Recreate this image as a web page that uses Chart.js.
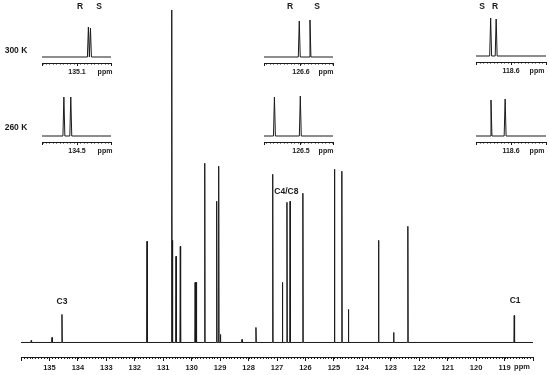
<!DOCTYPE html>
<html>
<head>
<meta charset="utf-8">
<script src="https://cdn.jsdelivr.net/npm/chart.js@4"></script>
<style>
  html, body { margin: 0; padding: 0; background: #fff; }
  #wrap { position: relative; width: 550px; height: 375px; }
  #wrap canvas { position: absolute; }
</style>
</head>
<body>
<div id="wrap">
  <canvas id="main" width="550" height="375" style="left:0;top:0"></canvas>
</div>
<script>
// 13C spectrum: peak shifts (ppm) and peak heights (arbitrary units)
const peakPpm = [
  135.64, 134.91, 134.56, 131.57, 130.70, 130.67, 130.55, 130.40,
  129.88, 129.84, 129.54, 129.12, 129.05, 128.99, 128.23, 127.74,
  127.15, 126.81, 126.65, 126.54, 126.09, 124.98, 124.72, 124.49,
  123.43, 122.90, 122.40, 118.66
];
const peakHeight = [
  2, 5, 28, 101, 332, 102, 86, 96,
  60, 60, 179, 141, 176, 8, 3, 15,
  168, 60, 140, 141, 149, 173, 171, 33,
  102, 10, 116, 27
];
const axisTicks = [136, 135, 134, 133, 132, 131, 130, 129, 128, 127, 126, 125, 124, 123, 122, 121, 120, 119, 118];
const axisLabelled = [135, 134, 133, 132, 131, 130, 129, 128, 127, 126, 125, 124, 123, 122, 121, 120, 119];

// peak labels
const peakLabelText = ["C3", "C4/C8", "C1"];
const peakLabelPpm = [134.56, 126.67, 118.63];

// insets: 300 K row (C3, C4/C8, C1) then 260 K row
const insetTick = [135.1, 126.6, 118.6, 134.5, 126.5, 118.6];
const insetPeakPpm = [
  [135.067, 135.061], [126.605, 126.574], [118.659, 118.643],
  [134.538, 134.518], [126.577, 126.502], [118.658, 118.617]
];
const insetPeakHeight = [
  [30, 29], [36, 37], [38, 37],
  [39, 39], [39, 40], [36, 37]
];
const insetPeakNames = [["R", "S"], ["R", "S"], ["S", "R"]];

// layout (pixels)
const lineColor = "#1a1a1a";
const textColor = "#1a1a1a";
const fontFamily = "'Liberation Sans', Arial, Helvetica, sans-serif";
const peakLabelY = [302, 192, 301];
const insetBoxes = [
  { left: 42, width: 69, tickX: 77, baseline: 57, ppmX: 105 },
  { left: 264, width: 69, tickX: 301, baseline: 57, ppmX: 326 },
  { left: 476, width: 70, tickX: 511, baseline: 56, ppmX: 537 },
  { left: 42, width: 69, tickX: 77, baseline: 136, ppmX: 105 },
  { left: 264, width: 69, tickX: 301, baseline: 136, ppmX: 326 },
  { left: 476, width: 70, tickX: 511, baseline: 136, ppmX: 537 }
];
const insetSpare = 4; // room right of an inset for the "ppm" text
const nameX = [[80, 99], [290, 317], [482, 495]];
const tempLabels = [{ text: "300 K", y: 51 }, { text: "260 K", y: 128 }];

Chart.defaults.font.family = fontFamily;
Chart.defaults.font.weight = "bold";
Chart.defaults.color = textColor;

/**
 * Builds line points for a stick-like spectrum, left to right on a reversed axis.
 */
function buildSpectrum(ppm, height, halfWidth, from, to) {
  const order = ppm.map((p, i) => i).sort((a, b) => ppm[b] - ppm[a]);
  const points = [{ x: from, y: 0 }];
  order.forEach((i) => {
    points.push({ x: ppm[i] + halfWidth, y: 0 });
    points.push({ x: ppm[i], y: height[i] });
    points.push({ x: ppm[i] - halfWidth, y: 0 });
  });
  points.push({ x: to, y: 0 });
  return points;
}

// small ticks between the labelled ones, plus the "ppm" unit
const minorTicks = {
  id: "minorTicks",
  afterDraw(chart, args, opts) {
    const s = chart.scales.x;
    const ctx = chart.ctx;
    ctx.save();
    ctx.strokeStyle = lineColor;
    ctx.lineWidth = 1;
    ctx.beginPath();
    const k0 = Math.ceil(s.min / opts.step - 1e-6);
    const k1 = Math.floor(s.max / opts.step + 1e-6);
    for (let k = k0; k <= k1; k++) {
      const x = Math.round(s.getPixelForValue(k * opts.step)) + 0.5;
      ctx.moveTo(x, s.top);
      ctx.lineTo(x, s.top + opts.length);
    }
    ctx.stroke();
    ctx.fillStyle = textColor;
    ctx.font = "bold " + opts.fontSize + "px " + fontFamily;
    ctx.textAlign = "center";
    ctx.textBaseline = "top";
    ctx.fillText("ppm", opts.ppmX, s.top + opts.labelTop);
    ctx.restore();
  }
};

const mainText = {
  id: "mainText",
  afterDraw(chart) {
    const ctx = chart.ctx;
    const x = chart.scales.x;
    ctx.save();
    ctx.fillStyle = textColor;
    ctx.font = "bold 8.5px " + fontFamily;
    ctx.textAlign = "center";
    ctx.textBaseline = "middle";
    peakLabelText.forEach((t, i) => {
      ctx.fillText(t, x.getPixelForValue(peakLabelPpm[i]), peakLabelY[i]);
    });
    insetPeakNames.forEach((names, i) => {
      names.forEach((n, j) => ctx.fillText(n, nameX[i][j], 7));
    });
    tempLabels.forEach((t) => ctx.fillText(t.text, 16, t.y));
    ctx.restore();
  }
};

new Chart(document.getElementById("main"), {
  type: "scatter",
  data: {
    datasets: [{
      data: buildSpectrum(peakPpm, peakHeight, 0.012, 136, 118),
      showLine: true,
      borderColor: lineColor,
      borderWidth: 1,
      pointRadius: 0
    }]
  },
  options: {
    responsive: false,
    animation: false,
    events: [],
    layout: { padding: { left: 21, right: 17, top: 10, bottom: 0 } },
    plugins: {
      legend: { display: false },
      tooltip: { enabled: false },
      minorTicks: { step: 0.1, length: 2, ppmX: 522, labelTop: 6, fontSize: 7.5 }
    },
    scales: {
      x: {
        type: "linear",
        reverse: true,
        min: 118,
        max: 136,
        afterBuildTicks: (s) => { s.ticks = axisTicks.map((v) => ({ value: v })); },
        afterFit: (s) => { s.height = 18; },
        grid: { drawOnChartArea: false, tickLength: 4, color: lineColor },
        border: { color: lineColor, width: 1 },
        ticks: {
          padding: 2,
          autoSkip: false,
          maxRotation: 0,
          font: { size: 7.5, weight: "bold" },
          callback: (v) => (axisLabelled.includes(v) ? String(v) : "")
        }
      },
      y: { display: false, min: -14.5, max: 332 }
    }
  },
  plugins: [minorTicks, mainText]
});

// insets
const wrap = document.getElementById("wrap");
insetBoxes.forEach((box, i) => {
  const canvas = document.createElement("canvas");
  canvas.width = box.width + insetSpare;
  canvas.height = 62;
  canvas.style.left = box.left + "px";
  canvas.style.top = (box.baseline - 42) + "px";
  wrap.appendChild(canvas);

  const c = insetTick[i];
  const xMax = c + (box.tickX - box.left) / 345;
  const xMin = c - (box.left + box.width - box.tickX) / 345;

  new Chart(canvas, {
    type: "scatter",
    data: {
      datasets: [{
        data: buildSpectrum(insetPeakPpm[i], insetPeakHeight[i], 0.0028, xMax, xMin),
        showLine: true,
        borderColor: lineColor,
        borderWidth: 1,
        pointRadius: 0
      }]
    },
    options: {
      responsive: false,
      animation: false,
      events: [],
      layout: { padding: { left: 0, top: 0, bottom: 0, right: insetSpare } },
      plugins: {
        legend: { display: false },
        tooltip: { enabled: false },
        minorTicks: { step: 0.01, length: 1.5, ppmX: box.ppmX - box.left, labelTop: 6, fontSize: 7 }
      },
      scales: {
        x: {
          type: "linear",
          reverse: true,
          min: xMin,
          max: xMax,
          afterBuildTicks: (s) => { s.ticks = [xMin, c, xMax].map((v) => ({ value: v })); },
          afterFit: (s) => { s.height = 14; },
          grid: { drawOnChartArea: false, tickLength: 3, color: lineColor },
          border: { color: lineColor, width: 1 },
          ticks: {
            padding: 2,
            autoSkip: false,
            maxRotation: 0,
            font: { size: 7, weight: "bold" },
            callback: (v) => (Math.abs(v - c) < 1e-6 ? c.toFixed(1) : "")
          }
        },
        y: { display: false, min: -6, max: 42 }
      }
    },
    plugins: [minorTicks]
  });
});
</script>
</body>
</html>
